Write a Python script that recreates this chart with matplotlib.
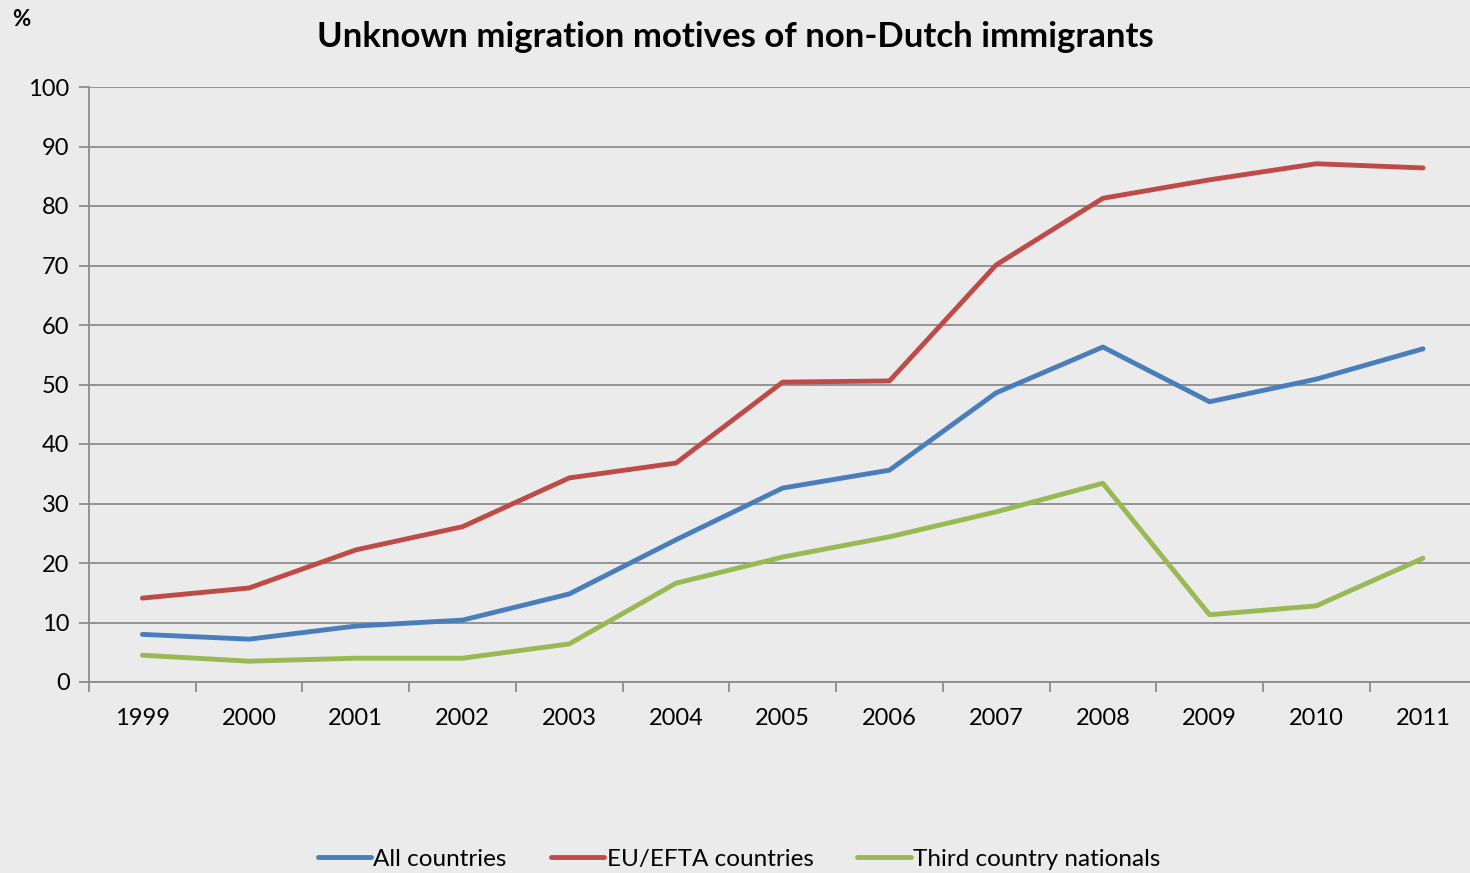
import matplotlib
matplotlib.use('Agg')
import matplotlib.pyplot as plt
import numpy as np

years = ['1999', '2000', '2001', '2002', '2003', '2004', '2005',
         '2006', '2007', '2008', '2009', '2010', '2011']
all_countries = [8.0, 7.2, 9.4, 10.4, 14.8, 23.9, 32.6, 35.6, 48.6, 56.3, 47.1, 50.9, 56.0]
eu_efta = [14.1, 15.8, 22.2, 26.1, 34.3, 36.8, 50.4, 50.6, 70.1, 81.3, 84.4, 87.1, 86.4]
third_country = [4.5, 3.5, 4.0, 4.0, 6.4, 16.6, 21.0, 24.4, 28.6, 33.4, 11.3, 12.8, 20.8]

plt.rcParams['font.family'] = ['Lato', 'DejaVu Sans']
bg = '#EBEBEB'
grid_col = '#8C8C8C'

fig = plt.figure(figsize=(14.7, 8.73), dpi=100, facecolor=bg)
ax = fig.add_axes([89 / 1470, 1 - 682 / 873, 1 - 89 / 1470, (682 - 87) / 873])
ax.set_facecolor(bg)

x = np.arange(len(years))
ax.plot(x, all_countries, color='#4A7EBB', lw=3.5, label='All countries', solid_capstyle='round')
ax.plot(x, eu_efta, color='#BE4B48', lw=3.5, label='EU/EFTA countries', solid_capstyle='round')
ax.plot(x, third_country, color='#98B954', lw=3.5, label='Third country nationals', solid_capstyle='round')

ax.set_xlim(-0.5, 12.44)
ax.set_ylim(0, 100)
ax.set_yticks(range(0, 101, 10))
ax.set_xticks(x)
ax.set_xticklabels(years)
ax.set_xticks(np.arange(-0.5, 12.5, 1), minor=True)
ax.tick_params(axis='x', which='major', length=0, pad=19, labelsize=17)
ax.tick_params(axis='x', which='minor', length=7, width=1.3, color=grid_col, direction='out')
ax.tick_params(axis='y', length=7, width=1.3, color=grid_col, labelsize=17, pad=7)

ax.grid(axis='y', color=grid_col, lw=1.3)
ax.set_axisbelow(True)
for side in ['top', 'right']:
    ax.spines[side].set_visible(False)
for side in ['left', 'bottom']:
    ax.spines[side].set_color(grid_col)
    ax.spines[side].set_linewidth(1.3)

fig.text(735 / 1470, 1 - 37 / 873, 'Unknown migration motives of non-Dutch immigrants',
         ha='center', va='center', fontsize=25, fontweight='bold')
fig.text(12 / 1470, 1 - 20 / 873, '%', ha='left', va='center', fontsize=16, fontweight='bold')

fig.legend(loc='center', bbox_to_anchor=(739 / 1470, 1 - 859 / 873), ncol=3, frameon=False,
           fontsize=17.5, handlelength=2.2, handletextpad=0.1, columnspacing=1.8)

fig.savefig('out.png', dpi=100, facecolor=bg)
